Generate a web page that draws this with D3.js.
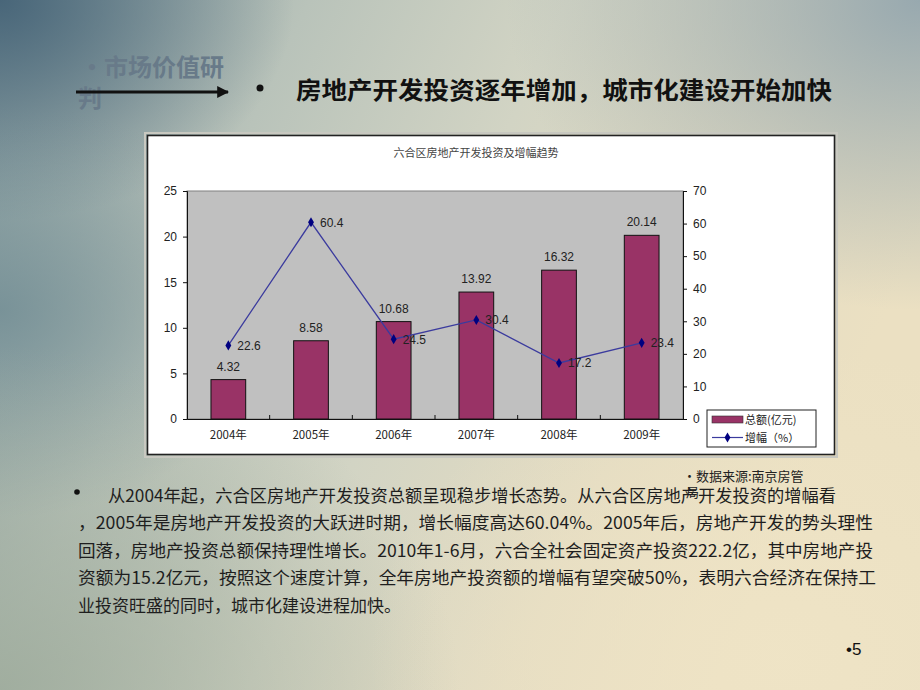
<!DOCTYPE html>
<html><head><meta charset="utf-8">
<script src="https://cdn.jsdelivr.net/npm/d3@7"></script>
<style>
html,body{margin:0;padding:0;width:920px;height:690px;overflow:hidden;}
svg{display:block;}
</style></head>
<body>
<svg id="s" width="920" height="690"></svg>
<script>
const years = ["2004年","2005年","2006年","2007年","2008年","2009年"];
const totals = [4.32, 8.58, 10.68, 13.92, 16.32, 20.14];
const growth = [22.6, 60.4, 24.5, 30.4, 17.2, 23.4];
const leftTicks = [0,5,10,15,20,25];
const rightTicks = [0,10,20,30,40,50,60,70];
const chartTitle = "六合区房地产开发投资及增幅趋势";
const legendLabels = ["总额(亿元)","增幅（%）"];
const slideTag = ["•市场价值研","判"];
const heading = "房地产开发投资逐年增加，城市化建设开始加快";
const sourceNote = ["•数据来源:南京房管","局"];
const bodyLines = [
 "从2004年起，六合区房地产开发投资总额呈现稳步增长态势。从六合区房地产开发投资的增幅看",
 "，2005年是房地产开发投资的大跃进时期，增长幅度高达60.04%。2005年后，房地产开发的势头理性",
 "回落，房地产投资总额保持理性增长。2010年1-6月，六合全社会固定资产投资222.2亿，其中房地产投",
 "资额为15.2亿元，按照这个速度计算，全年房地产投资额的增幅有望突破50%，表明六合经济在保持工",
 "业投资旺盛的同时，城市化建设进程加快。"
];
const pageNo = "•5";

const svg = d3.select("#s");
const defs = svg.append("defs");
const CJK = "'Noto Sans CJK SC','Noto Sans',sans-serif";
const CH = "'Liberation Sans','Noto Sans CJK SC',sans-serif";

// background
const lg = defs.append("linearGradient").attr("id","bg").attr("x1","0").attr("y1","0").attr("x2","1").attr("y2","0.35");
[["0%","#8a9fa2"],["30%","#b9c3ba"],["55%","#d2d4c4"],["80%","#e4dcc2"],["100%","#ebe0c2"]].forEach(s=>lg.append("stop").attr("offset",s[0]).attr("stop-color",s[1]));
svg.append("rect").attr("width",920).attr("height",690).attr("fill","url(#bg)");
const rg1 = defs.append("radialGradient").attr("id","tl").attr("cx","0").attr("cy","0").attr("r","0.32");
rg1.append("stop").attr("offset","0%").attr("stop-color","#456377").attr("stop-opacity",0.95);
rg1.append("stop").attr("offset","100%").attr("stop-color","#456377").attr("stop-opacity",0);
svg.append("rect").attr("width",920).attr("height",690).attr("fill","url(#tl)");
const rg5 = defs.append("radialGradient").attr("id","ml").attr("cx","0").attr("cy","0.45").attr("r","0.3");
rg5.append("stop").attr("offset","0%").attr("stop-color","#6f8b93").attr("stop-opacity",0.8);
rg5.append("stop").attr("offset","100%").attr("stop-color","#6f8b93").attr("stop-opacity",0);
svg.append("rect").attr("width",920).attr("height",690).attr("fill","url(#ml)");
const rg2 = defs.append("radialGradient").attr("id","tr").attr("cx","1").attr("cy","0").attr("r","0.45");
rg2.append("stop").attr("offset","0%").attr("stop-color","#8fa3ad").attr("stop-opacity",0.9);
rg2.append("stop").attr("offset","100%").attr("stop-color","#8fa3ad").attr("stop-opacity",0);
svg.append("rect").attr("width",920).attr("height",690).attr("fill","url(#tr)");
const rg3 = defs.append("radialGradient").attr("id","bl").attr("cx","0").attr("cy","1").attr("r","0.5");
rg3.append("stop").attr("offset","0%").attr("stop-color","#9aa898").attr("stop-opacity",0.8);
rg3.append("stop").attr("offset","100%").attr("stop-color","#9aa898").attr("stop-opacity",0);
svg.append("rect").attr("width",920).attr("height",690).attr("fill","url(#bl)");
const rg4 = defs.append("radialGradient").attr("id","br").attr("cx","0.85").attr("cy","0.95").attr("r","0.45");
rg4.append("stop").attr("offset","0%").attr("stop-color","#efe4c6").attr("stop-opacity",0.9);
rg4.append("stop").attr("offset","100%").attr("stop-color","#efe4c6").attr("stop-opacity",0);
svg.append("rect").attr("width",920).attr("height",690).attr("fill","url(#br)");

// top-left tag & arrow
svg.append("text").attr("x",80).attr("y",76).attr("font-family",CJK).attr("font-size",24).attr("font-weight","bold")
  .attr("fill","#687a89").text(slideTag[0]);
svg.append("text").attr("x",78).attr("y",107).attr("font-family",CJK).attr("font-size",24).attr("font-weight","bold")
  .attr("fill","#687a89").text(slideTag[1]);
defs.append("marker").attr("id","ah").attr("viewBox","0 0 10 10").attr("refX",9).attr("refY",5)
  .attr("markerWidth",4).attr("markerHeight",4).attr("orient","auto")
  .append("path").attr("d","M0,0L10,5L0,10z").attr("fill","#111");
svg.append("line").attr("x1",76).attr("y1",92).attr("x2",228).attr("y2",92).attr("stroke","#111").attr("stroke-width",3).attr("marker-end","url(#ah)");

// heading
svg.append("circle").attr("cx",260).attr("cy",88).attr("r",3.5).attr("fill","#111");
svg.append("text").attr("x",296).attr("y",99).attr("font-family",CJK).attr("font-size",24).attr("font-weight","bold")
  .attr("fill","#111").attr("textLength",536).attr("lengthAdjust","spacingAndGlyphs").text(heading);

// chart box
svg.append("rect").attr("x",145).attr("y",133).attr("width",692).attr("height",324).attr("fill","none").attr("stroke","#c8c8c0").attr("stroke-width",2);
svg.append("rect").attr("x",147.5).attr("y",135.5).attr("width",687).attr("height",319).attr("fill","#ffffff").attr("stroke","#222").attr("stroke-width",1.6);

const pl = 187, pr = 683, pt = 191, pb = 419;
svg.append("text").attr("x",476).attr("y",157).attr("text-anchor","middle").attr("font-family",CJK).attr("font-size",11).attr("fill","#444").text(chartTitle);

const x = d3.scaleBand().domain(years).range([pl,pr]).paddingInner(0).paddingOuter(0);
const yL = d3.scaleLinear().domain([0,25]).range([pb,pt]);
const yR = d3.scaleLinear().domain([0,70]).range([pb,pt]);

svg.append("rect").attr("x",pl).attr("y",pt).attr("width",pr-pl).attr("height",pb-pt).attr("fill","#c0c0c0").attr("stroke","#808080").attr("stroke-width",1);

// bars
const bw = x.bandwidth()*0.42;
svg.append("g").selectAll("rect").data(years).join("rect")
  .attr("x",d=>x(d)+x.bandwidth()/2-bw/2).attr("y",(d,i)=>yL(totals[i]))
  .attr("width",bw).attr("height",(d,i)=>pb-yL(totals[i]))
  .attr("fill","#993366").attr("stroke","#111").attr("stroke-width",1);
svg.append("g").selectAll("text").data(years).join("text")
  .attr("x",d=>x(d)+x.bandwidth()/2).attr("y",(d,i)=>yL(totals[i])-9)
  .attr("text-anchor","middle").attr("font-family",CH).attr("font-size",12).attr("fill","#222")
  .text((d,i)=>totals[i]);

// axes
const axL = d3.axisLeft(yL).tickValues(leftTicks).tickSize(4).tickPadding(6);
const gL = svg.append("g").attr("transform",`translate(${pl},0)`).call(axL);
const axR = d3.axisRight(yR).tickValues(rightTicks).tickSize(4).tickPadding(6);
const gR = svg.append("g").attr("transform",`translate(${pr},0)`).call(axR);
[gL,gR].forEach(g=>{
  g.select(".domain").attr("stroke","#111");
  g.selectAll(".tick line").attr("stroke","#111");
  g.selectAll(".tick text").attr("font-family",CH).attr("font-size",12).attr("fill","#222");
});
const axB = d3.axisBottom(x).tickSize(0).tickPadding(12);
const gB = svg.append("g").attr("transform",`translate(0,${pb})`).call(axB);
gB.select(".domain").attr("stroke","#111");
gB.selectAll(".tick text").attr("font-family",CJK).attr("font-size",11.5).attr("fill","#222");
svg.append("g").selectAll("line").data(years.slice(1)).join("line")
  .attr("x1",d=>x(d)).attr("x2",d=>x(d)).attr("y1",pb-4).attr("y2",pb).attr("stroke","#111");

// line
const line = d3.line().x((d,i)=>x(years[i])+x.bandwidth()/2).y(d=>yR(d));
svg.append("path").datum(growth).attr("d",line).attr("fill","none").attr("stroke","#3b3b9e").attr("stroke-width",1.3);
const sym = d3.symbol().type(d3.symbolDiamond).size(30);
svg.append("g").selectAll("path").data(growth).join("path")
  .attr("transform",(d,i)=>`translate(${x(years[i])+x.bandwidth()/2},${yR(d)})`)
  .attr("d",sym).attr("fill","#000080");
svg.append("g").selectAll("text").data(growth).join("text")
  .attr("x",(d,i)=>x(years[i])+x.bandwidth()/2+9).attr("y",d=>yR(d)+4.5)
  .attr("font-family",CH).attr("font-size",12).attr("fill","#222").text(d=>d);

// legend
const lx = 707, ly = 410;
svg.append("rect").attr("x",lx).attr("y",ly).attr("width",109).attr("height",37).attr("fill","#fff").attr("stroke","#222").attr("stroke-width",1);
svg.append("rect").attr("x",lx+5).attr("y",ly+6).attr("width",31).attr("height",7).attr("fill","#993366").attr("stroke","#333").attr("stroke-width",0.6);
svg.append("text").attr("x",lx+38).attr("y",ly+14).attr("font-family",CJK).attr("font-size",11).attr("fill","#222").text(legendLabels[0]);
svg.append("line").attr("x1",lx+5).attr("x2",lx+36).attr("y1",ly+27.5).attr("y2",ly+27.5).attr("stroke","#3b3b9e").attr("stroke-width",1.2);
svg.append("path").attr("transform",`translate(${lx+20.5},${ly+27.5})`).attr("d",sym).attr("fill","#000080");
svg.append("text").attr("x",lx+38).attr("y",ly+32).attr("font-family",CJK).attr("font-size",11).attr("fill","#222").text(legendLabels[1]);

// source note
svg.append("text").attr("x",683).attr("y",481).attr("font-family",CJK).attr("font-size",13).attr("fill","#222").text(sourceNote[0]);
svg.append("text").attr("x",686).attr("y",497).attr("font-family",CJK).attr("font-size",13).attr("fill","#222").text(sourceNote[1]);

// body text
svg.append("circle").attr("cx",77).attr("cy",492).attr("r",2.8).attr("fill","#111");
const bodyX = [108,78,78,78,78];
const bodyW = [728,795,795,798,null];
const bodyY = [502,529,557,584,612];
bodyLines.forEach((t,i)=>{
  const tx = svg.append("text").attr("x",bodyX[i]).attr("y",bodyY[i]).attr("font-family",CJK).attr("font-size",17).attr("fill","#1e1e1e").text(t);
  if(bodyW[i]) tx.attr("textLength",bodyW[i]).attr("lengthAdjust","spacingAndGlyphs");
});

// page number
svg.append("text").attr("x",846).attr("y",655).attr("font-family",CH).attr("font-size",17).attr("fill","#111").text(pageNo);
</script>
</body></html>
